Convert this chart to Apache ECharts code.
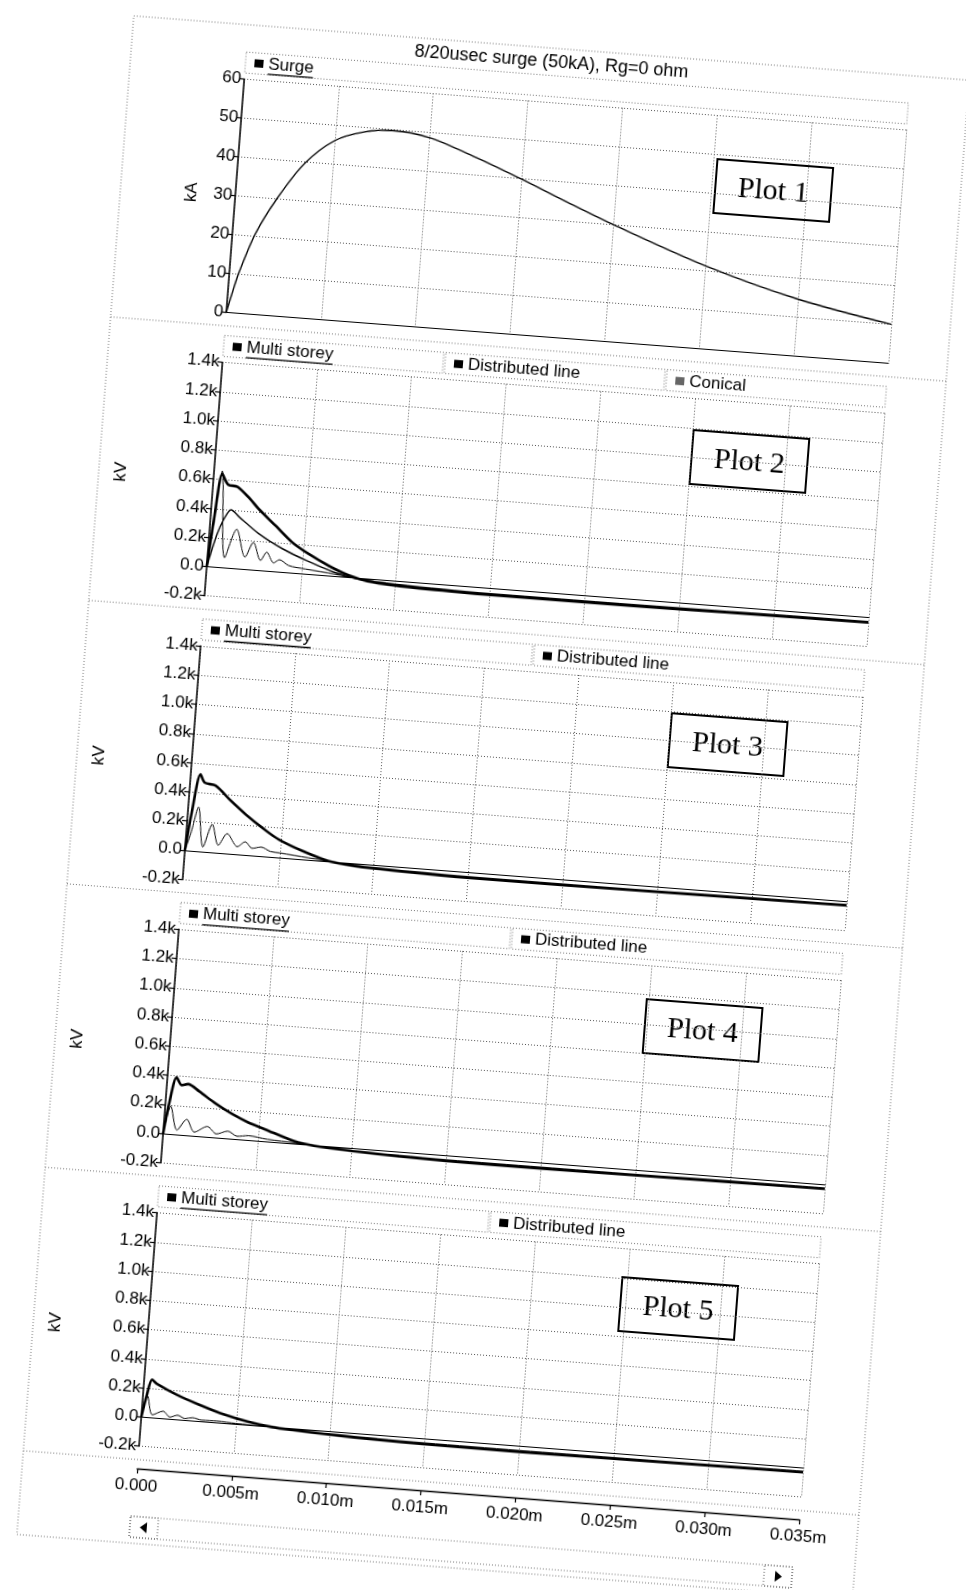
<!DOCTYPE html>
<html>
<head>
<meta charset="utf-8">
<script src="https://cdn.jsdelivr.net/npm/echarts@6/dist/echarts.min.js"></script>
<style>
  html, body { margin: 0; padding: 0; background: #fff; overflow: hidden; }
  #chart { width: 966px; height: 1590px; transform: rotate(4.4deg); transform-origin: 483px 795px; }
</style>
</head>
<body>
<div id="chart"></div>
<script>
// ---- axis ticks ----
const timeTickLabels = ['0.000', '0.005m', '0.010m', '0.015m', '0.020m', '0.025m', '0.030m', '0.035m'];
const kaTickLabels = ['0', '10', '20', '30', '40', '50', '60'];
const kvTickLabels = ['-0.2k', '0.0', '0.2k', '0.4k', '0.6k', '0.8k', '1.0k', '1.2k', '1.4k'];
const plotNames = ['Plot 1', 'Plot 2', 'Plot 3', 'Plot 4', 'Plot 5'];
const chartTitle = '8/20usec surge (50kA), Rg=0 ohm';

// ---- series values: [time (ms), value] ; kA for the surge, kV for the rest ----
const surge = [[0,0],[0.00025,5.4],[0.0005,10.3],[0.0012,20.5],[0.0022,30.0],[0.0035,39.5],[0.005,46.0],
  [0.0065,48.8],[0.008,49.7],[0.010,48.6],[0.0125,44.5],[0.015,39.8],[0.0175,34.8],[0.020,30.0],
  [0.025,21.3],[0.030,14.6],[0.035,10.0]];

const p2Multi = [[0,0],[0.0002,0.30],[0.00044,0.66],[0.0009,0.07],[0.00143,0.27],[0.00197,0.085],
  [0.00236,0.19],[0.0028,0.07],[0.0031,0.13],[0.0035,0.06],[0.0038,0.085],[0.0043,0.05],[0.0052,0.035],
  [0.0068,0.015],[0.008,-0.005],[0.010,-0.02],[0.0125,-0.03],[0.015,-0.035],[0.020,-0.035],
  [0.025,-0.033],[0.030,-0.03],[0.035,-0.027]];
const p2Dist = [[0,0],[0.0002,0.34],[0.00045,0.64],[0.0008,0.57],[0.0013,0.56],[0.002,0.485],[0.0025,0.42],
  [0.0035,0.31],[0.0044,0.21],[0.0053,0.14],[0.0064,0.07],[0.0075,0.015],[0.0085,-0.015],[0.010,-0.03],
  [0.0125,-0.04],[0.015,-0.045],[0.020,-0.045],[0.025,-0.042],[0.030,-0.038],[0.035,-0.035]];
const p2Conical = [[0,0],[0.0004,0.22],[0.0007,0.33],[0.00106,0.40],[0.0015,0.356],[0.0026,0.252],
  [0.0039,0.162],[0.0052,0.094],[0.0068,0.025],[0.008,-0.005],[0.010,-0.025],[0.0125,-0.035],
  [0.015,-0.04],[0.020,-0.04],[0.025,-0.038],[0.030,-0.034],[0.035,-0.03]];

const p3Multi = [[0,0],[0.00025,0.12],[0.00055,0.30],[0.00093,0.03],[0.00134,0.19],[0.00173,0.05],
  [0.00216,0.134],[0.00274,0.05],[0.00314,0.088],[0.00352,0.047],[0.004,0.06],[0.0045,0.035],[0.005,0.03],
  [0.0065,0.012],[0.008,-0.005],[0.010,-0.02],[0.0125,-0.028],[0.015,-0.032],[0.020,-0.033],
  [0.025,-0.031],[0.030,-0.028],[0.035,-0.025]];
const p3Dist = [[0,0],[0.0002,0.25],[0.00052,0.525],[0.00077,0.47],[0.00135,0.455],[0.0022,0.362],
  [0.0031,0.27],[0.004,0.19],[0.0049,0.12],[0.0062,0.054],[0.0076,0.0],[0.009,-0.02],[0.011,-0.03],
  [0.015,-0.04],[0.020,-0.04],[0.025,-0.038],[0.030,-0.034],[0.035,-0.03]];

const p4Multi = [[0,0],[0.0003,0.19],[0.00071,0.03],[0.00119,0.109],[0.00163,0.026],[0.0023,0.071],
  [0.0028,0.025],[0.0034,0.05],[0.0039,0.02],[0.0045,0.03],[0.0055,0.015],[0.007,0.005],[0.008,-0.005],
  [0.010,-0.018],[0.0125,-0.025],[0.015,-0.03],[0.020,-0.031],[0.025,-0.03],[0.030,-0.027],[0.035,-0.024]];
const p4Dist = [[0,0],[0.0002,0.21],[0.00049,0.39],[0.00078,0.34],[0.00112,0.35],[0.00174,0.305],
  [0.00264,0.232],[0.00354,0.17],[0.00443,0.12],[0.00532,0.083],[0.0069,0.017],[0.008,-0.005],
  [0.010,-0.02],[0.0125,-0.032],[0.015,-0.038],[0.020,-0.04],[0.025,-0.037],[0.030,-0.033],[0.035,-0.03]];

const p5Multi = [[0,0],[0.00025,0.146],[0.00057,0.02],[0.00113,0.051],[0.0015,0.014],[0.0019,0.031],
  [0.0023,0.012],[0.0027,0.022],[0.0032,0.01],[0.004,0.012],[0.005,0.005],[0.0065,0.0],[0.008,-0.008],
  [0.010,-0.016],[0.0125,-0.024],[0.015,-0.028],[0.020,-0.03],[0.025,-0.029],[0.030,-0.026],[0.035,-0.023]];
const p5Dist = [[0,0],[0.0002,0.15],[0.00042,0.26],[0.00069,0.234],[0.00176,0.171],[0.003,0.114],
  [0.0044,0.058],[0.0056,0.024],[0.0069,0.0],[0.008,-0.01],[0.010,-0.022],[0.0125,-0.032],[0.015,-0.037],
  [0.020,-0.04],[0.025,-0.037],[0.030,-0.033],[0.035,-0.03]];

// ---- layout of the stacked panes (px) ----
const GL = 190, GW = 664, GH = 234;
const GT = [99.4, 383.7, 668, 952.3, 1236.6];
const AXIS_Y = 1493;
const FS = 17;
const FONT = '"Liberation Sans", Arial, sans-serif';
const SERIF = '"Liberation Serif", "Times New Roman", serif';

const panes = [
  { series: [{ name: 'Surge', data: surge, width: 1.4 }], yKind: 'kA' },
  { series: [{ name: 'Multi storey', data: p2Multi, width: 1 },
             { name: 'Distributed line', data: p2Dist, width: 2.6 },
             { name: 'Conical', data: p2Conical, width: 1.4 }], yKind: 'kV' },
  { series: [{ name: 'Multi storey', data: p3Multi, width: 1 },
             { name: 'Distributed line', data: p3Dist, width: 2.6 }], yKind: 'kV' },
  { series: [{ name: 'Multi storey', data: p4Multi, width: 1 },
             { name: 'Distributed line', data: p4Dist, width: 2.6 }], yKind: 'kV' },
  { series: [{ name: 'Multi storey', data: p5Multi, width: 1 },
             { name: 'Distributed line', data: p5Dist, width: 2.6 }], yKind: 'kV' }
];

const gridLine = { show: true, lineStyle: { color: '#555', width: 1, type: [1, 2] } };
const measure = document.createElement('canvas').getContext('2d');
measure.font = FS + 'px ' + FONT;

const grids = [], xAxes = [], yAxes = [], series = [], legends = [], graphics = [];

panes.forEach((p, i) => {
  grids.push({ left: GL, top: GT[i], width: GW, height: GH });
  xAxes.push({
    type: 'value', gridIndex: i, min: 0, max: 0.035, interval: 0.005,
    axisLine: { show: true, onZero: true, lineStyle: { color: '#000', width: 1.2 } },
    axisTick: { show: false }, axisLabel: { show: false }, splitLine: gridLine
  });
  const isKA = p.yKind === 'kA';
  yAxes.push({
    type: 'value', gridIndex: i,
    min: isKA ? 0 : -0.2, max: isKA ? 60 : 1.4, interval: isKA ? 10 : 0.2,
    name: p.yKind, nameLocation: 'middle', nameRotate: 90, nameGap: isKA ? 35 : 84,
    nameTextStyle: { fontSize: FS, color: '#000', fontFamily: FONT },
    axisLine: { show: true, lineStyle: { color: '#000', width: 1.5 } },
    axisTick: { show: true, length: 5, lineStyle: { color: '#000', width: 1.2 } },
    axisLabel: {
      fontSize: FS, color: '#000', fontFamily: FONT, margin: 3,
      formatter: (v, idx) => (isKA ? kaTickLabels : kvTickLabels)[idx]
    },
    splitLine: gridLine
  });
  p.series.forEach(s => {
    series.push({
      name: s.name, type: 'line', xAxisIndex: i, yAxisIndex: i, data: s.data,
      showSymbol: false, smooth: 0.3, animation: false,
      lineStyle: { color: '#000', width: s.width }, itemStyle: { color: s.name === 'Conical' ? '#666' : '#000' },
      z: s.width > 2 ? 3 : 2
    });
  });

  // legend row: one dotted cell per series
  const n = p.series.length;
  const cellW = (GW + 2) / n;
  p.series.forEach((s, k) => {
    const cx = GL + 2 + k * cellW;
    const cy = GT[i] - 16;
    graphics.push({
      type: 'rect', silent: true,
      shape: { x: cx - 2, y: cy - 11, width: cellW - 2, height: 21 },
      style: { fill: 'none', stroke: '#777', lineWidth: 1, lineDash: [1, 2] }
    });
    legends.push({
      data: [s.name], left: cx + 7, top: cy - 9, padding: 0, icon: 'rect',
      itemWidth: 9, itemHeight: 8, itemGap: 0, selectedMode: false,
      textStyle: { fontSize: FS, color: '#000', fontFamily: FONT }
    });
    if (k === 0) {
      const tx = cx + 7 + 9 + 5;
      const tw = measure.measureText(s.name).width;
      graphics.push({
        type: 'line', silent: true,
        shape: { x1: tx, y1: cy + 9.5, x2: tx + tw, y2: cy + 9.5 },
        style: { stroke: '#000', lineWidth: 1.3 }
      });
    }
  });

  // pane separator under each pane
  const sepY = GT[i] + GH + 13.5;
  graphics.push({
    type: 'line', silent: true,
    shape: { x1: 75, y1: sepY, x2: 913, y2: sepY },
    style: { stroke: '#777', lineWidth: 1, lineDash: [1, 2] }
  });
});

// plot labels in framed boxes
const boxCentres = [[726, 170], [723, 442], [723, 726], [720, 1013], [717, 1292]];
plotNames.forEach((t, i) => {
  graphics.push({
    type: 'group', x: boxCentres[i][0], y: boxCentres[i][1], z: 50,
    children: [
      { type: 'rect', shape: { x: -58, y: -27, width: 116, height: 54 },
        style: { fill: '#fff', stroke: '#000', lineWidth: 2 } },
      { type: 'text', style: { text: t, x: 0, y: 1, align: 'center', verticalAlign: 'middle',
        font: '30px ' + SERIF, fill: '#000' } }
    ]
  });
});

// shared time axis at the bottom
grids.push({ left: GL, top: AXIS_Y - 1, width: GW, height: 1 });
xAxes.push({
  type: 'value', gridIndex: 5, min: 0, max: 0.035, interval: 0.005, position: 'bottom',
  axisLine: { show: true, onZero: false, lineStyle: { color: '#000', width: 1.3 } },
  axisTick: { show: true, length: 5, lineStyle: { color: '#000', width: 1.2 } },
  axisLabel: { fontSize: FS, color: '#000', fontFamily: FONT, margin: 9,
    formatter: (v, idx) => timeTickLabels[idx] },
  splitLine: { show: false }
});
yAxes.push({ type: 'value', gridIndex: 5, min: 0, max: 1, show: false });

// outer frame and scroll bar
graphics.push(
  { type: 'rect', silent: true, shape: { x: 75, y: 45, width: 838, height: 1523 },
    style: { fill: 'none', stroke: '#777', lineWidth: 1, lineDash: [1, 2] } },
  { type: 'rect', silent: true, shape: { x: 187, y: 1541, width: 664, height: 21 },
    style: { fill: 'none', stroke: '#777', lineWidth: 1, lineDash: [1, 2] } },
  { type: 'rect', silent: true, shape: { x: 187, y: 1541, width: 28, height: 21 },
    style: { fill: 'none', stroke: '#555', lineWidth: 1, lineDash: [1, 2] } },
  { type: 'rect', silent: true, shape: { x: 823, y: 1541, width: 28, height: 21 },
    style: { fill: 'none', stroke: '#555', lineWidth: 1, lineDash: [1, 2] } },
  { type: 'polygon', silent: true, shape: { points: [[197, 1551.5], [204, 1546], [204, 1557]] },
    style: { fill: '#000' } },
  { type: 'polygon', silent: true, shape: { points: [[841, 1551.5], [834, 1546], [834, 1557]] },
    style: { fill: '#000' } }
);

const chart = echarts.init(document.getElementById('chart'), null, { renderer: 'canvas' });
chart.setOption({
  animation: false,
  backgroundColor: '#fff',
  title: { text: chartTitle, left: 495, top: 50, textAlign: 'center', padding: 0,
    textStyle: { fontSize: 18, fontWeight: 'normal', color: '#000', fontFamily: FONT } },
  grid: grids, xAxis: xAxes, yAxis: yAxes, series: series, legend: legends,
  graphic: { elements: graphics }
});
</script>
</body>
</html>
